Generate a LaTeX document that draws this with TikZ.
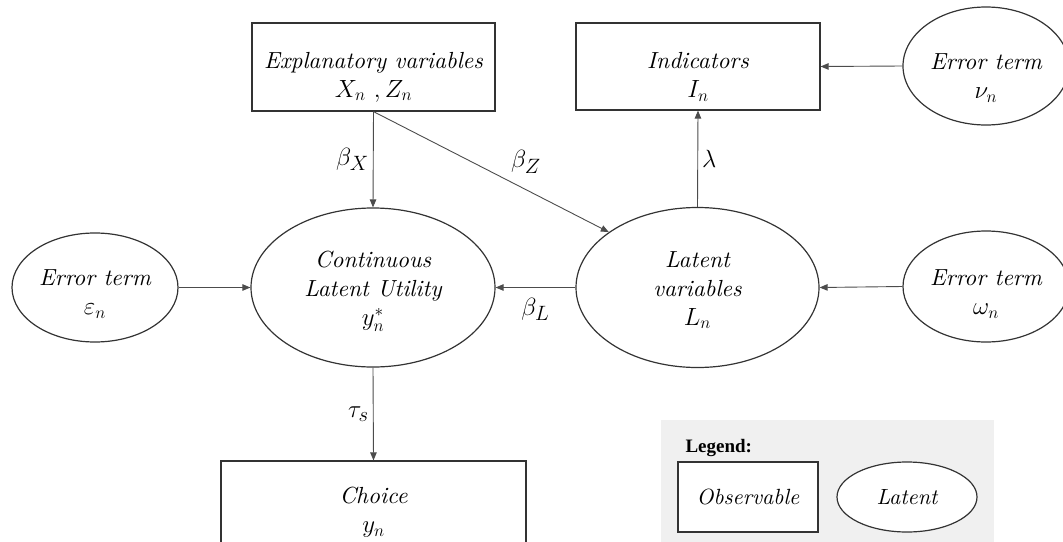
\documentclass[tikz,border=0pt]{standalone}
\usepackage{fontspec}
\setmainfont{lmroman10-regular.otf}[ItalicFont=lmroman10-italic.otf, BoldFont=lmroman10-bold.otf]
\newfontfamily\legendfont{Liberation Serif}
\usepackage{tikz}
\usetikzlibrary{arrows.meta, positioning, shapes.geometric}

\begin{document}
\begin{tikzpicture}[x=1pt, y=-1pt,
    font=\fontsize{23.3}{29}\selectfont\itshape,
    obsbox/.style={draw=black!80, line width=1.2pt, rectangle, inner sep=0pt},
    latell/.style={draw=black!80, line width=1.2pt, ellipse, inner sep=0pt},
    txt/.style={align=center, inner sep=0pt},
    conn/.style={draw=black!70, line width=0.9pt, -{Triangle[length=8pt, width=6.5pt]}},
    lab/.style={font=\fontsize{24.88}{30}\selectfont, inner sep=4pt}]
    \useasboundingbox (0,0) rectangle (1063,541);
    \clip (0,0) rectangle (1063,541);

    \fill[black!6] (661,420) rectangle (994,560);

    \node[obsbox, minimum width=243pt, minimum height=88pt] (expl) at (373.5,67) {};
    \node[obsbox, minimum width=244pt, minimum height=87pt] (ind) at (698,66.5) {};
    \node[latell, minimum width=166pt, minimum height=118pt] (errnu) at (986,66) {};
    \node[latell, minimum width=166pt, minimum height=109pt] (erreps) at (95,287.5) {};
    \node[latell, minimum width=244pt, minimum height=159pt] (util) at (373,287.5) {};
    \node[latell, minimum width=243pt, minimum height=160pt] (latent) at (697.5,287.5) {};
    \node[latell, minimum width=166pt, minimum height=111pt] (errom) at (986,286.5) {};
    \node[obsbox, minimum width=305pt, minimum height=140pt] (choice) at (373.5,531) {};

    \node[txt] (expl-t) at (373.5,77) {Explanatory variables\\$X_n\ ,Z_n$};
    \node[txt] (ind-t) at (698,77) {Indicators\\$I_n$};
    \node[txt] (errnu-t) at (986,78) {Error term\\$\nu_n$};
    \node[txt] (erreps-t) at (95,294) {Error term\\$\varepsilon_n$};
    \node[txt] (util-t) at (373,291) {Continuous\\Latent Utility\\$y_n^*$};
    \node[txt] (latent-t) at (697.5,290) {Latent\\variables\\$L_n$};
    \node[txt] (errom-t) at (986,294) {Error term\\$\omega_n$};
    \node[txt] (choice-t) at (373.5,512) {Choice\\$y_n$};

    \node[anchor=base west, font=\legendfont\fontsize{19}{22}\selectfont\bfseries] (leg-t) at (682,452) {Legend:};
    \node[obsbox, minimum width=140pt, minimum height=70pt, fill=white, font=\fontsize{22}{26}\selectfont\itshape] (leg-obs) at (748,497) {Observable};
    \node[latell, minimum width=140pt, minimum height=70pt, fill=white, font=\fontsize{22}{26}\selectfont\itshape] (leg-lat) at (907,497) {Latent};

    \draw[conn] (expl.south) -- (util.north) node[lab, midway, left] {$\beta_X$};
    \draw[conn] (expl.south) -- (latent.148) node[lab, pos=0.56, above right=2pt] {$\beta_Z$};
    \draw[conn] (latent.north) -- (ind.south) node[lab, midway, right] {$\lambda$};
    \draw[conn] (errnu.west) -- (ind.east);
    \draw[conn] (erreps.east) -- (util.west);
    \draw[conn] (latent.west) -- (util.east) node[lab, midway, below=6pt] {$\beta_L$};
    \draw[conn] (errom.west) -- (latent.east);
    \draw[conn] (util.south) -- (choice.north) node[lab, midway, left] {$\tau_s$};
\end{tikzpicture}
\end{document}
